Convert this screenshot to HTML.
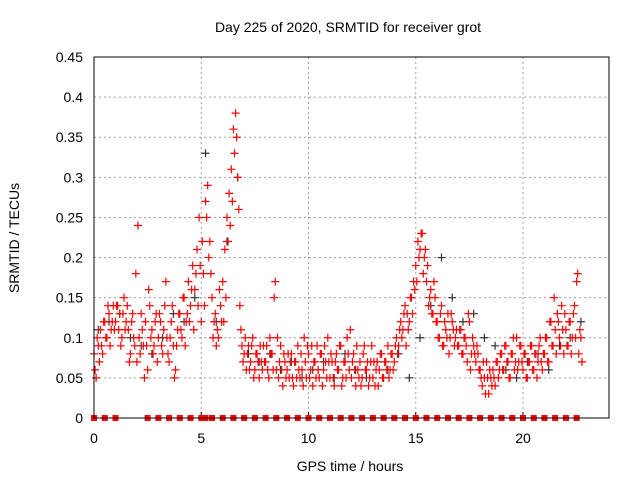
<!DOCTYPE html>
<html><head><meta charset="utf-8"><style>
body{margin:0;background:#fff;}
svg{display:block;font-family:"Liberation Sans",sans-serif;}
</style></head><body>
<svg id="chart" width="640" height="480" viewBox="0 0 640 480">
<rect width="640" height="480" fill="#fff"/>
<text x="348" y="32" text-anchor="middle" font-size="14">Day 225 of 2020, SRMTID for receiver grot</text>
<text x="350" y="471" text-anchor="middle" font-size="14">GPS time / hours</text>
<text transform="translate(19,238) rotate(-90)" text-anchor="middle" font-size="14">SRMTID / TECUs</text>
<g id="grid"></g>
<g id="ticks"></g>
<g id="marks"></g>
<rect x="94" y="57" width="515" height="361" fill="none" stroke="#000" stroke-width="1"/>
</svg>
<script>
const xTicks=[0,5,10,15,20];
const yTicks=[0,0.05,0.1,0.15,0.2,0.25,0.3,0.35,0.4,0.45];
const yTickLabels=["0","0.05","0.1","0.15","0.2","0.25","0.3","0.35","0.4","0.45"];
const redStep=0.1;
const redA=[.08,.05,.09,.11,.08,.12,.10,.13,.11,.14,
.12,.14,.13,.10,.15,.12,.11,.08,.13,.09,
.07,.10,.13,.09,.12,.06,.14,.11,.09,.13,
.10,.12,.08,.14,.10,.07,.12,.09,.06,.11,
.13,.10,.15,.12,.17,.14,.19,.16,.21,.25,
.12,.18,.27,.29,.22,.15,.12,.09,.10,.14,
.17,.21,.25,.28,.31,.36,.38,.30,.14,.09,
.08,.06,.09,.07,.10,.06,.08,.05,.07,.09,
.07,.06,.10,.08,.15,.06,.05,.09,.04,.07,
.06,.05,.08,.04,.07,.09,.05,.06,.10,.05,
.08,.06,.04,.07,.09,.05,.08,.06,.07,.10,
.05,.07,.04,.08,.06,.09,.05,.07,.10,.06,
.05,.08,.04,.06,.07,.05,.09,.06,.04,.07,
.05,.04,.07,.06,.08,.05,.07,.09,.06,.08,
.07,.10,.09,.12,.11,.14,.13,.12,.15,.17,
.19,.22,.21,.23,.20,.17,.14,.16,.13,.15,
.12,.10,.14,.09,.11,.13,.10,.12,.09,.11,
.09,.11,.08,.10,.07,.12,.08,.09,.07,.08,
.06,.04,.05,.07,.03,.05,.06,.04,.07,.06,
.08,.06,.09,.07,.05,.08,.06,.10,.07,.09,
.06,.08,.05,.07,.09,.06,.08,.07,.10,.06,
.08,.10,.07,.12,.09,.11,.13,.10,.14,.08,
.11,.09,.12,.10,.14,.17,.08,.10];
const redB=[.06,.10,.07,.09,.12,.10,.14,.09,.12,.11,
.14,.11,.09,.13,.11,.14,.07,.12,.10,.18,
.24,.08,.11,.05,.09,.16,.10,.08,.12,.07,
.13,.09,.11,.17,.08,.10,.14,.05,.09,.13,
.11,.15,.09,.13,.12,.16,.11,.18,.14,.19,
.22,.14,.25,.20,.18,.10,.13,.11,.16,.12,
.12,.15,.22,.24,.27,.33,.35,.26,.11,.07,
.10,.08,.06,.09,.05,.08,.07,.09,.06,.07,
.09,.05,.08,.06,.17,.10,.07,.06,.08,.05,
.08,.07,.05,.07,.05,.06,.08,.04,.07,.09,
.05,.09,.07,.05,.06,.08,.04,.09,.05,.07,
.08,.05,.07,.06,.09,.04,.07,.05,.08,.11,
.07,.06,.09,.05,.04,.08,.06,.07,.05,.09,
.07,.06,.04,.08,.05,.07,.06,.05,.08,.06,
.09,.08,.11,.10,.13,.09,.11,.15,.13,.16,
.17,.20,.23,.18,.21,.19,.15,.13,.17,.12,
.10,.13,.09,.12,.10,.08,.13,.11,.10,.09,
.11,.08,.10,.09,.13,.06,.10,.08,.09,.06,
.05,.07,.03,.05,.06,.04,.05,.07,.05,.08,
.06,.09,.07,.05,.08,.10,.07,.06,.09,.07,
.08,.05,.07,.09,.06,.08,.05,.09,.07,.08,
.10,.07,.12,.09,.15,.08,.12,.09,.11,.13,
.09,.12,.08,.13,.10,.18,.11,.07];
const blackStep=0.5;
const blackVals=[.11,.12,.13,.10,.09,.08,.10,.13,.12,.15,.33,.12,.22,.30,.08,.07,
.08,.06,.07,.05,.06,.07,.05,.08,.06,.05,.07,.06,.08,.05,.10,.14,.20,.15,.12,.13,.10,.09,.06,.05,.07,.08,.06,.09,.10,.12];
const zeroHours=[0,0.5,1,2.5,3,3.5,4,4.5,5,5.2,5.5,6,6.5,7,7.5,8,8.5,9,9.5,10,10.5,11,11.5,12,12.5,13,13.5,14,14.5,15,15.5,16,16.5,17,17.5,18,18.5,19,19.5,20,20.5,21,21.5,22,22.5];

const NS="http://www.w3.org/2000/svg";
const X=h=>94+h*(429/20);
const Y=v=>418-v*(361/0.45);
function mk(tag,attrs,parent){const e=document.createElementNS(NS,tag);for(const k in attrs)e.setAttribute(k,attrs[k]);parent.appendChild(e);return e;}
const grid=document.getElementById('grid'),ticks=document.getElementById('ticks'),marks=document.getElementById('marks');
xTicks.forEach(t=>{
  const l=mk('line',{x1:X(t),x2:X(t),y1:57,y2:418,stroke:'#a0a0a0','stroke-dasharray':'2,3'},grid);
  
  
  const tk=mk('line',{x1:X(t),x2:X(t),y1:418,y2:412,stroke:'#000'},ticks);
  
  
  const tx=mk('text',{x:X(t),y:443,'text-anchor':'middle','font-size':14},ticks);
  tx.textContent=String(t);
  
  
});
yTicks.forEach((t,i)=>{
  const l=mk('line',{x1:94,x2:609,y1:Y(t),y2:Y(t),stroke:'#a0a0a0','stroke-dasharray':'2,3'},grid);
  
  
  const tx=mk('text',{x:83,y:Y(t)+5,'text-anchor':'end','font-size':14},ticks);
  tx.textContent=yTickLabels[i];
  
  
});
function plus(h,v,color,name){
  const x=X(h),y=Y(v);
  const p=mk('path',{d:`M${x-4} ${y}H${x+4}M${x} ${y-4}V${y+4}`,stroke:color,'stroke-width':1.2,fill:'none'},marks);
  
  
}
blackVals.forEach((v,i)=>plus(i*blackStep+0.2,v,'#333','black-point'));
redA.forEach((v,i)=>plus(i*redStep,v,'#ff0000','red-point'));
redB.forEach((v,i)=>plus(i*redStep+0.05,v,'#ff0000','red-point'));
zeroHours.forEach(h=>{
  const r=mk('rect',{x:X(h)-3,y:Y(0)-3,width:6,height:6,fill:'#ff0000'},marks);
  
  
});
</script>
</body></html>
